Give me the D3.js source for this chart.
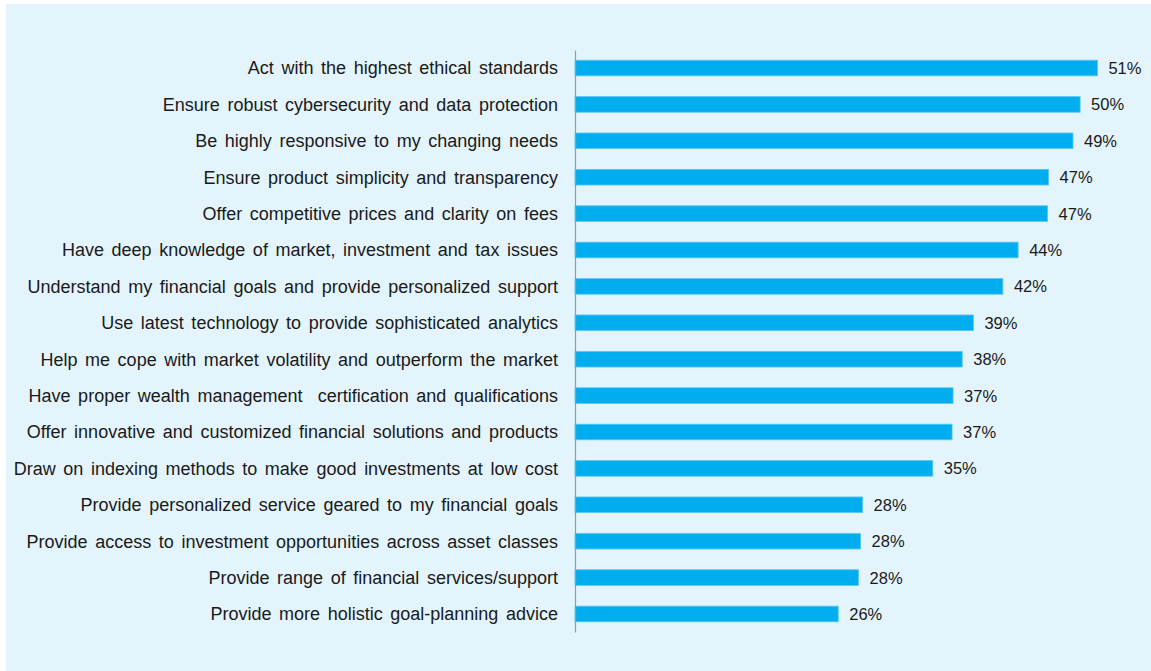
<!DOCTYPE html>
<html>
<head>
<meta charset="utf-8">
<script src="https://cdn.jsdelivr.net/npm/d3@7"></script>
<style>
	body { margin: 0; background: #ffffff; }
	svg { display: block; }
	.label { font-family: "Liberation Sans", Arial, sans-serif; fill: #1a1a1a; }
	.cat { font-size: 18px; word-spacing: 2.6px; }
	.val { font-size: 16.5px; }
</style>
</head>
<body>
<svg id="myGraph" width="1151" height="671"></svg>
<script>
// data (bar lengths; labels show them rounded)
var categories = [
	"Act with the highest ethical standards",
	"Ensure robust cybersecurity and data protection",
	"Be highly responsive to my changing needs",
	"Ensure product simplicity and transparency",
	"Offer competitive prices and clarity on fees",
	"Have deep knowledge of market, investment and tax issues",
	"Understand my financial goals and provide personalized support",
	"Use latest technology to provide sophisticated analytics",
	"Help me cope with market volatility and outperform the market",
	"Have proper wealth management  certification and qualifications",
	"Offer innovative and customized financial solutions and products",
	"Draw on indexing methods to make good investments at low cost",
	"Provide personalized service geared to my financial goals",
	"Provide access to investment opportunities across asset classes",
	"Provide range of financial services/support",
	"Provide more holistic goal-planning advice"
];
var values = [51.4, 49.7, 49.0, 46.6, 46.5, 43.6, 42.1, 39.2, 38.1, 37.2, 37.1, 35.2, 28.3, 28.1, 27.9, 25.9];

window.addEventListener("load", function(){

	var svg = d3.select("#myGraph");

	// panel
	svg.append("rect")
		.attr("x", 6).attr("y", 4)
		.attr("width", 1145).attr("height", 667)
		.attr("fill", "#e3f4fc");

	var x = d3.scaleLinear()
		.domain([0, 51.4])
		.range([575, 1097.4]);

	var y = d3.scaleBand()
		.domain(categories)
		.range([50, 632])
		.paddingInner(0.57)
		.paddingOuter(0.28);

	svg.selectAll("rect.bar")
		.data(values)
		.enter()
		.append("rect")
		.attr("class", "bar")
		.attr("x", x(0))
		.attr("y", function(d, i){ return y(categories[i]); })
		.attr("width", function(d){ return x(d) - x(0); })
		.attr("height", y.bandwidth())
		.attr("fill", "#00aeef")
		.attr("stroke", "#5cc8f2")
		.attr("stroke-width", 0.8);

	// value labels
	svg.selectAll("text.val")
		.data(values)
		.enter()
		.append("text")
		.attr("class", "label val")
		.attr("x", function(d){ return x(d) + 11; })
		.attr("y", function(d, i){ return y(categories[i]) + y.bandwidth() / 2; })
		.attr("dy", "0.36em")
		.text(function(d){ return Math.round(d) + "%"; });

	// category axis
	var axis = d3.axisLeft(y).tickSize(0).tickPadding(17);
	var g = svg.append("g")
		.attr("transform", "translate(" + x(0) + ",0)")
		.call(axis);
	g.select(".domain").attr("stroke", "#9a9a9a").attr("stroke-width", 1.2);
	g.selectAll("text")
		.attr("class", "label cat")
		.attr("dy", "0.35em")
		.style("white-space", "pre")
		.attr("fill", "#1a1a1a");
});
</script>
</body>
</html>
